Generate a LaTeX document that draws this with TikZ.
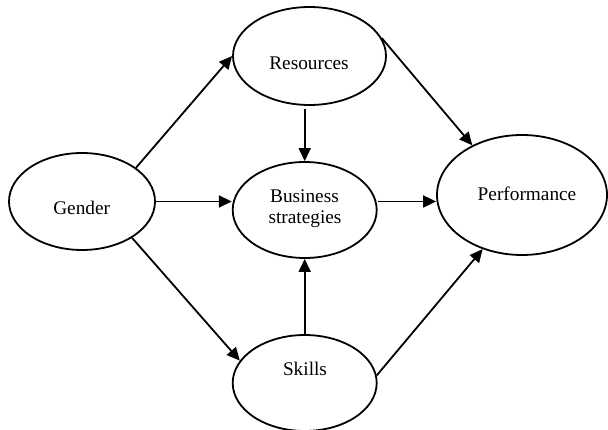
\documentclass[tikz,border=0pt]{standalone}
\usepackage{fontspec}
\setmainfont{Liberation Serif}
\usetikzlibrary{shapes.geometric,arrows.meta}
\begin{document}
\begin{tikzpicture}[x=1pt,y=-1pt,
  blob/.style={ellipse,draw,line width=1.8pt,inner sep=0pt},
  lbl/.style={anchor=base,font=\fontsize{19.3}{20.6}\selectfont,inner sep=0pt,align=center},
  link/.style={line width=1.8pt,-{Triangle[length=13pt,width=12pt]}}]
\useasboundingbox (0,0) rectangle (608,430);

% constructs
\node[blob,minimum width=146pt,minimum height=97pt] (G) at (82,201.5) {};
\node[blob,minimum width=153pt,minimum height=98pt] (R) at (309.5,56) {};
\node[blob,minimum width=144pt,minimum height=96pt] (B) at (304.7,210) {};
\node[blob,minimum width=170pt,minimum height=120pt] (P) at (522,195) {};
\node[blob,minimum width=144pt,minimum height=96pt] (S) at (304.7,383) {};

% labels
\node[lbl] (tG) at (81.7,215) {Gender};
\node[lbl] (tR) at (309,70) {Resources};
\node[lbl] (tB1) at (304.5,202.7) {Business};
\node[lbl] (tB2) at (305,223.3) {strategies};
\node[lbl] (tP) at (527,201) {Performance};
\node[lbl] (tS) at (305,375) {Skills};

% paths
\draw[link] (G.32) -- (R.west);
\draw[link] (G.east) -- (G.east -| B.west);
\draw[link] (G.-36) -- (S.161);
\draw[link] ([yshift=-3pt]B.north |- R.south) -- (B.north);
\draw[link] (R.14) -- (P.135);
\draw[link] (B.east |- G.east) -- (P.west |- G.east);
\draw[link] (S.north) -- (B.south);
\draw[link] (S.6) -- (P.-126);
\end{tikzpicture}
\end{document}
